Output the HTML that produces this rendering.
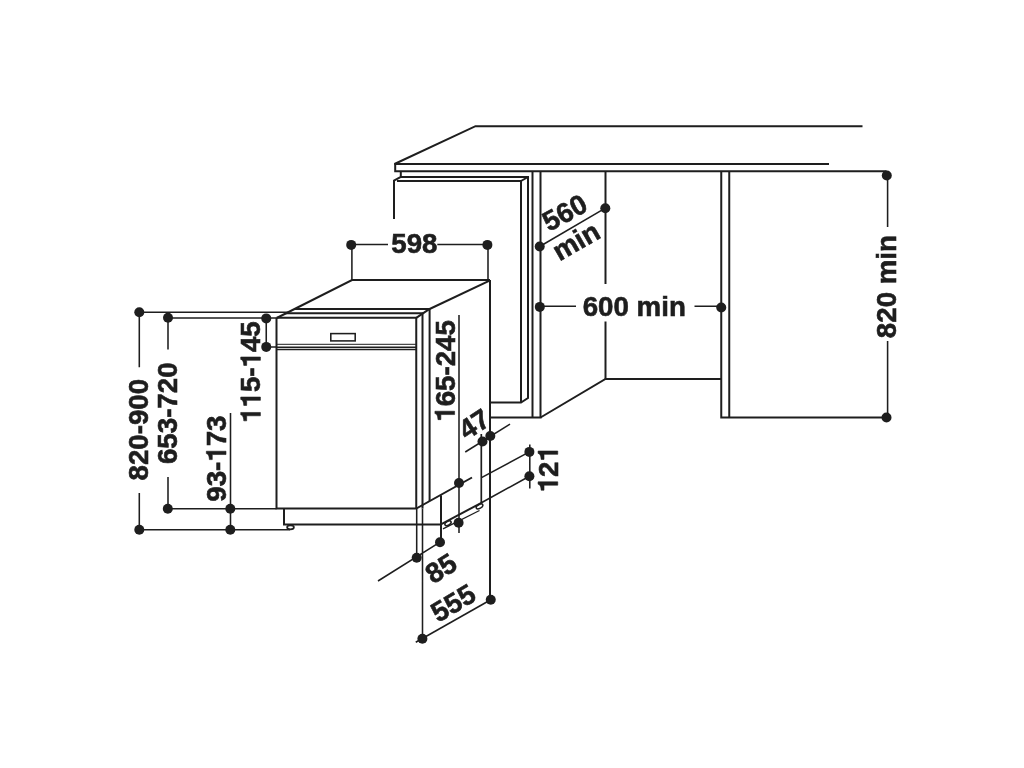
<!DOCTYPE html>
<html><head><meta charset="utf-8">
<style>
html,body{margin:0;padding:0;background:#fff;width:1024px;height:768px;overflow:hidden}
svg{display:block;will-change:transform}
text{font-family:"Liberation Sans",sans-serif;font-weight:bold;font-size:27.7px;fill:#1e1e1e;stroke:#1e1e1e;stroke-width:0.6px;font-kerning:none}
.one{fill:none;stroke:none}
</style></head><body>
<svg width="1024" height="768" viewBox="0 0 1024 768">
<rect width="1024" height="768" fill="#fff"/>
<g fill="none" stroke="#1e1e1e" stroke-width="2" stroke-linejoin="miter" stroke-linecap="butt">
<!-- countertop -->
<path d="M394.5,164 L475.5,126.2 L862.5,126.2"/>
<path d="M394.5,164 L829,164"/>
<path d="M395.2,163.2 V171.3 L886.5,171.3"/>
<!-- left cabinet door -->
<path d="M394,219 V180.5 L400.8,177 V171.3"/>
<path d="M400.8,177 H528 V398 L521,402.5 H490"/>
<path d="M397,181 H521 V402.5"/>
<path d="M521,181 L528,177"/>
<!-- post -->
<path d="M532.5,171.3 V417.5"/>
<path d="M540.5,171.3 V417.5 H490"/>
<path d="M540.5,417.5 L605.5,379 H721.25"/>
<path d="M605.5,171.3 V284"/>
<path d="M605.5,321.5 V379"/>
<path d="M721.25,171.3 V417.5 H886.5"/>
<path d="M729.25,171.3 V417.5"/>
<!-- dishwasher top -->
<path d="M276.7,318 L352,280 H490"/>
<path d="M490,280 V599.75"/>
<path d="M489.6,280.6 L429.6,309"/>
<path d="M294.5,309 H429.6 V501"/>
<path d="M285,313.3 H422.5 V508.5"/>
<path d="M276.7,317.8 H416.25 V508.5"/>
<path d="M416.25,317.8 L429.6,308.9"/>
<path d="M276.5,317.8 V508.5 H416.25 L472,477.5"/>
<!-- plinth -->
<path d="M284,508.5 V524.6 H441"/>
<path d="M441,495.5 V542.2"/>
<path d="M440.9,524.3 L481.4,502.8"/>
</g>
<g fill="none" stroke="#1e1e1e" stroke-width="1.55">
<rect x="330.8" y="333.6" width="24.4" height="7.3"/>
<path d="M276.5,344.3 H416.25" stroke-width="1"/>
<path d="M276.5,347.2 H416.25" stroke-width="1.6"/>
<path d="M276.5,349.5 H416.25" stroke-width="1.3"/>
<path d="M443,528.8 L479.5,510.5" stroke-width="1.3"/>
<ellipse cx="290.5" cy="527.3" rx="3.4" ry="2" stroke-width="1.7"/>
<ellipse cx="448" cy="523.3" rx="3.4" ry="1.9" transform="rotate(-28 448 523.3)" stroke-width="1.5"/>
<ellipse cx="479.5" cy="506.4" rx="3.6" ry="1.9" transform="rotate(-28 479.5 506.4)" stroke-width="1.5"/>
<!-- dims -->
<path d="M887.6,175.5 V227 M887.6,341 V417.5"/>
<path d="M540,306.3 H576 M694.5,306.3 H721.25"/>
<path d="M539.7,246.5 L605.3,208.2"/>
<path d="M351.2,244.5 H388 M437.3,244.5 H487.4 M351.9,245 V280 M488,245 V280"/>
<path d="M139.3,312.3 H288 M139.3,312.3 V367.2 M139.3,493 V529.8 H290"/>
<path d="M168,318 H276.7 M168,318 V349.5 M168,477 V508.7 H276.5"/>
<path d="M266.25,318.4 V346.9 H276.5"/>
<path d="M230.5,413 V529.8"/>
<path d="M459,315 V533"/>
<path d="M465.25,452 L510,424.2"/>
<path d="M481.3,434 V503" stroke-width="1.7"/>
<path d="M529.8,444.4 V488.4 M529.4,451.9 L481.5,477.6 M529.4,476.2 L481.4,502.8"/>
<path d="M378,581 L440,542.2 M441,495.5 V542.2 M416.7,508.5 V557.8 M422.5,508.5 V638.75"/>
<path d="M415.75,642.25 L490.75,599.75"/>
</g>
<g fill="#1e1e1e">
<circle cx="886.8" cy="175.5" r="5"/>
<circle cx="886.5" cy="417.5" r="5"/>
<circle cx="539.8" cy="306.9" r="5"/>
<circle cx="721.25" cy="307.5" r="5"/>
<circle cx="539.7" cy="246.5" r="5"/>
<circle cx="605.3" cy="208.2" r="5"/>
<circle cx="351.2" cy="244.9" r="5"/>
<circle cx="487.4" cy="244.9" r="5"/>
<circle cx="139.3" cy="312.3" r="5"/>
<circle cx="168" cy="317.8" r="5"/>
<circle cx="266.25" cy="318.4" r="5"/>
<circle cx="266.25" cy="346.9" r="5"/>
<circle cx="139.3" cy="529.8" r="5"/>
<circle cx="167.8" cy="508.7" r="5"/>
<circle cx="230.3" cy="508.7" r="5"/>
<circle cx="230.3" cy="529.8" r="5"/>
<circle cx="459" cy="483" r="5"/>
<circle cx="458.6" cy="522.8" r="5"/>
<circle cx="482.5" cy="441.5" r="5"/>
<circle cx="490.3" cy="436" r="5"/>
<circle cx="529.4" cy="451.9" r="5"/>
<circle cx="529.4" cy="476.2" r="5"/>
<circle cx="440" cy="542.2" r="5"/>
<circle cx="416.7" cy="557.8" r="5"/>
<circle cx="490.75" cy="599.75" r="5"/>
<circle cx="422.4" cy="638.75" r="5"/>
</g>
<g text-anchor="middle">
<text id="t598" x="414.4" y="253.25">598</text>
<text id="t600" x="634.25" y="315.6">600 min</text>
<text id="t820m" transform="translate(896,286.6) rotate(-90)" x="0" y="0">820 min</text>
<text id="t820" transform="translate(148.25,429.65) rotate(-90)" x="0" y="0">820-900</text>
<text id="t653" transform="translate(176.8,413.25) rotate(-90)" x="0" y="0">653-720</text>
<text id="t93" transform="translate(226,458.6) rotate(-90)" x="0" y="0">93-<tspan class="one">1</tspan>73</text>
<text id="t115" transform="translate(260.4,372.1) rotate(-90)" x="0" y="0"><tspan class="one">1</tspan><tspan class="one">1</tspan>5-<tspan class="one">1</tspan>45</text>
<text id="t165" transform="translate(454.6,370.9) rotate(-90)" x="0" y="0"><tspan class="one">1</tspan>65-245</text>
<text id="t121" transform="translate(557.75,469.2) rotate(-90)" x="0" y="0"><tspan class="one">1</tspan>2<tspan class="one">1</tspan></text>
<text id="t560" transform="translate(564.5,212.4) rotate(-28.5)" x="0" y="9.8">560</text>
<text id="tmin" transform="translate(575.9,240.8) rotate(-30)" x="0" y="9.8">min</text>
<text id="t47" transform="translate(474,424) rotate(-33)" x="0" y="9.8">47</text>
<text id="t85" transform="translate(440.75,568.1) rotate(-32)" x="0" y="9.8">85</text>
<text id="t555" transform="translate(453,602.8) rotate(-31)" x="0" y="9.8">555</text>
</g>
<g fill="#1e1e1e" stroke="#1e1e1e" stroke-width="21.7">
<path class="o-t93" transform="translate(226,458.6) rotate(-90) translate(-3.09,0.00) scale(0.02770,-0.02770)" d="M258,0 H378 V710 H292 C282,660 240,606 75,600 V496 H258 Z"/>
<path class="o-t115" transform="translate(260.4,372.1) rotate(-90) translate(-50.83,0.00) scale(0.02770,-0.02770)" d="M258,0 H378 V710 H292 C282,660 240,606 75,600 V496 H258 Z"/>
<path class="o-t115" transform="translate(260.4,372.1) rotate(-90) translate(-35.42,0.00) scale(0.02770,-0.02770)" d="M258,0 H378 V710 H292 C282,660 240,606 75,600 V496 H258 Z"/>
<path class="o-t115" transform="translate(260.4,372.1) rotate(-90) translate(4.61,0.00) scale(0.02770,-0.02770)" d="M258,0 H378 V710 H292 C282,660 240,606 75,600 V496 H258 Z"/>
<path class="o-t165" transform="translate(454.6,370.9) rotate(-90) translate(-50.81,0.00) scale(0.02770,-0.02770)" d="M258,0 H378 V710 H292 C282,660 240,606 75,600 V496 H258 Z"/>
<path class="o-t121" transform="translate(557.75,469.2) rotate(-90) translate(-23.11,0.00) scale(0.02770,-0.02770)" d="M258,0 H378 V710 H292 C282,660 240,606 75,600 V496 H258 Z"/>
<path class="o-t121" transform="translate(557.75,469.2) rotate(-90) translate(7.70,0.00) scale(0.02770,-0.02770)" d="M258,0 H378 V710 H292 C282,660 240,606 75,600 V496 H258 Z"/>
</g>

</svg>
</body></html>
